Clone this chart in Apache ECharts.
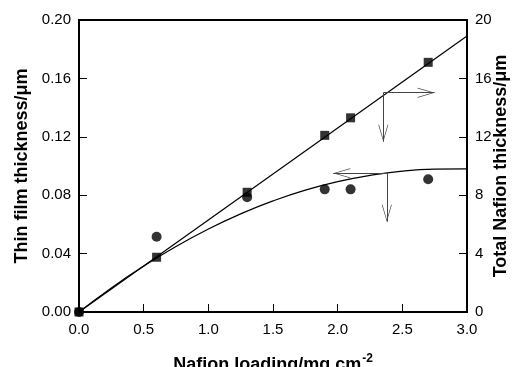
<!DOCTYPE html>
<html>
<head>
<meta charset="utf-8">
<script src="https://cdn.jsdelivr.net/npm/echarts@6/dist/echarts.min.js"></script>
<style>
  html, body { margin: 0; padding: 0; background: #fff; }
  #chart { width: 523px; height: 367px; }
</style>
</head>
<body>
<div id="chart"></div>
<script>
// total Nafion thickness (right axis, um) - squares
const loadingSq = [0, 0.6, 1.3, 1.9, 2.1, 2.7]
const totalThick = [0, 3.75, 8.2, 12.1, 13.3, 17.1]
// thin film thickness (left axis, um) - circles
const loadingCi = [0, 0.6, 1.3, 1.9, 2.1, 2.7]
const filmThick = [0, 0.0516, 0.0786, 0.084, 0.084, 0.0909]
// straight fit through squares (right axis)
const fitX = [0, 3.0]
const fitY = [0, 18.9]
// curve through circles (left axis)
const curveX = [0, 0.25, 0.5, 0.75, 1.0, 1.25, 1.5, 1.75, 2.0, 2.25, 2.5, 2.75, 3.0]
const curveY = [0, 0.0165, 0.0314, 0.0449, 0.0568, 0.0672, 0.0761, 0.0835, 0.0893, 0.0936, 0.0965, 0.0978, 0.098]
// arrows: corner, horizontal tip, vertical tip
const arrowRight = { corner: [2.353, 15.02], hTip: [2.75, 15.02], vTip: [2.353, 11.66] }
const arrowLeft = { corner: [2.38, 0.095], hTip: [1.966, 0.095], vTip: [2.38, 0.0618] }

const pairs = (xs, ys) => xs.map((x, i) => [x, ys[i]])
const chevron = 'path://M0,10 L5,0 L10,10 L9.3,10 L5,1.4 L0.7,10 Z'
const arrowLines = (a) => [
  [{ coord: a.corner }, { coord: a.hTip }],
  [{ coord: a.corner }, { coord: a.vTip }]
]
const arrowMark = (a) => ({
  silent: true,
  symbol: ['none', chevron],
  symbolSize: [10, 17],
  symbolOffset: [0, [0, 8.5]],
  label: { show: false },
  lineStyle: { color: '#444', width: 1, type: 'solid' },
  emphasis: { disabled: true },
  animation: false,
  data: arrowLines(a)
})

const font = 'Liberation Sans, Arial, sans-serif'
const titleStyle = { fontFamily: font, fontWeight: 'bold', fontSize: 18, color: '#000' }
const myChart = echarts.init(document.getElementById('chart'))
myChart.setOption({
  animation: false,
  grid: {
    left: 79,
    right: 56,
    top: 20,
    bottom: 55,
    outerBoundsMode: 'none',
    show: true,
    borderColor: '#000',
    borderWidth: 2
  },
  xAxis: {
    type: 'value',
    min: 0,
    max: 3,
    interval: 0.5,
    name: '{a|Nafion loading/mg cm}{b|-2}',
    nameLocation: 'middle',
    nameGap: 41,
    nameMoveOverlap: false,
    nameTextStyle: {
      rich: {
        a: titleStyle,
        b: { fontFamily: font, fontWeight: 'bold', fontSize: 12, color: '#000', verticalAlign: 'top', padding: [0, 0, 12, 1] }
      }
    },
    axisLine: { lineStyle: { color: '#000', width: 2 } },
    axisTick: { inside: true, length: 8, lineStyle: { color: '#000', width: 1 } },
    axisLabel: { color: '#000', fontFamily: font, fontSize: 15, margin: 10, formatter: (v) => v.toFixed(1) },
    splitLine: { show: false }
  },
  yAxis: [
    {
      type: 'value',
      min: 0,
      max: 0.2,
      interval: 0.04,
      name: 'Thin film thickness/\u03bcm',
      nameLocation: 'middle',
      nameGap: 48,
      nameMoveOverlap: false,
      nameTextStyle: titleStyle,
      axisLine: { show: true, lineStyle: { color: '#000', width: 2 } },
      axisTick: { inside: true, length: 8, lineStyle: { color: '#000', width: 1 } },
      axisLabel: { color: '#000', fontFamily: font, fontSize: 15, margin: 8, formatter: (v) => v.toFixed(2) },
      splitLine: { show: false }
    },
    {
      type: 'value',
      position: 'right',
      min: 0,
      max: 20,
      interval: 4,
      name: 'Total Nafion thickness/\u03bcm',
      nameLocation: 'middle',
      nameGap: 25,
      nameRotate: 90,
      nameMoveOverlap: false,
      nameTextStyle: titleStyle,
      axisLine: { show: true, lineStyle: { color: '#000', width: 2 } },
      axisTick: { inside: true, length: 8, lineStyle: { color: '#000', width: 1 } },
      axisLabel: { color: '#000', fontFamily: font, fontSize: 15, margin: 8 },
      splitLine: { show: false }
    }
  ],
  series: [
    {
      type: 'line',
      yAxisIndex: 1,
      data: pairs(fitX, fitY),
      showSymbol: false,
      lineStyle: { color: '#000', width: 1.2 },
      z: 2,
      markLine: arrowMark(arrowRight)
    },
    {
      type: 'line',
      yAxisIndex: 0,
      data: pairs(curveX, curveY),
      smooth: true,
      showSymbol: false,
      lineStyle: { color: '#000', width: 1.2 },
      z: 2,
      markLine: arrowMark(arrowLeft)
    },
    {
      type: 'scatter',
      yAxisIndex: 1,
      data: pairs(loadingSq, totalThick),
      symbol: 'rect',
      symbolSize: 9,
      itemStyle: { color: '#000' },
      z: 3
    },
    {
      type: 'scatter',
      yAxisIndex: 0,
      data: pairs(loadingCi, filmThick),
      symbol: 'circle',
      symbolSize: 10,
      itemStyle: { color: '#000' },
      z: 3
    }
  ]
})
</script>
</body>
</html>
